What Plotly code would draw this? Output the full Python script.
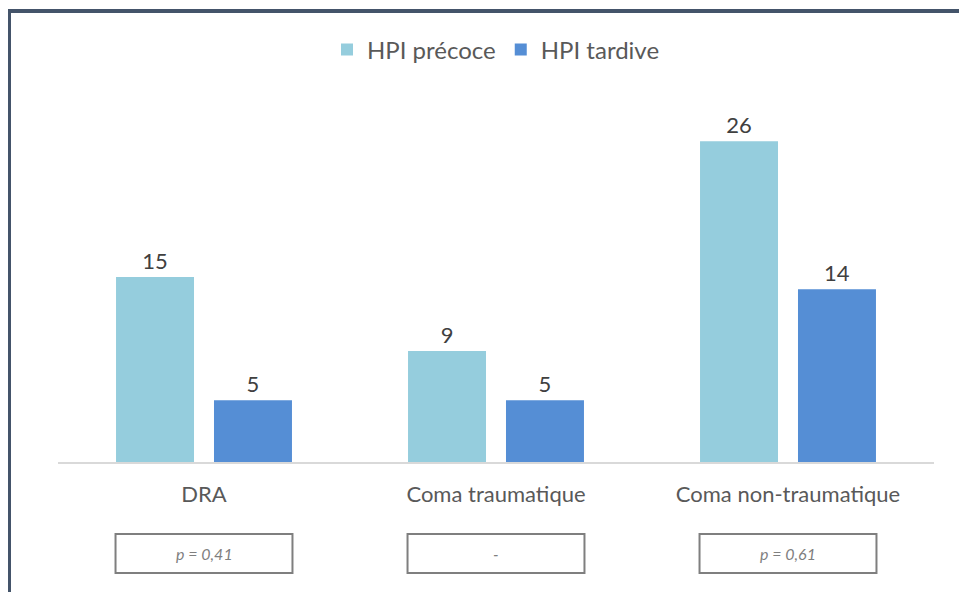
import plotly.graph_objects as go

categories = ["DRA", "Coma traumatique", "Coma non-traumatique"]
hpi_precoce = [15, 9, 26]
hpi_tardive = [5, 5, 14]
p_values = ["p = 0,41", "-", "p = 0,61"]

OFF = 8  # page body margin offset
W, H = 967, 592
L, R = 58 - OFF, 934 - OFF
T, B = 92 - OFF, 462 - OFF
YMAX = 30

def px_x(p):
    return (p - OFF - L) / (R - L)

def px_y(p):
    return (B - (p - OFF)) / (B - T)

fig = go.Figure()
fig.add_trace(go.Bar(
    name="HPI précoce", x=categories, y=hpi_precoce,
    marker=dict(color="#95cddd", line=dict(width=0)),
    text=hpi_precoce, textposition="outside",
    textfont=dict(size=22, color="#404040", family="Lato"),
    cliponaxis=False,
))
fig.add_trace(go.Bar(
    name="HPI tardive", x=categories, y=hpi_tardive,
    marker=dict(color="#558ed5", line=dict(width=0)),
    text=hpi_tardive, textposition="outside",
    textfont=dict(size=22, color="#404040", family="Lato"),
    cliponaxis=False,
))

shapes = []
annotations = []
n = len(categories)
half = 0.303
for i, pv in enumerate(p_values):
    x0 = (i + 0.5 - half) / n
    x1 = (i + 0.5 + half) / n
    shapes.append(dict(type="rect", xref="paper", yref="paper",
                       x0=x0, x1=x1, y0=px_y(573), y1=px_y(534),
                       line=dict(color="#7f7f7f", width=2), fillcolor="white"))
    annotations.append(dict(xref="paper", yref="paper", x=(i + 0.5) / n,
                            y=px_y(553.5), text=pv, showarrow=False,
                            font=dict(size=16, color="#7f7f7f", family="Lato", style="italic"),
                            xanchor="center", yanchor="middle"))

# outer frame
shapes.append(dict(type="rect", xref="paper", yref="paper",
                   x0=px_x(9), x1=px_x(1100), y0=px_y(800), y1=px_y(11),
                   line=dict(color="#44546a", width=4), fillcolor="rgba(0,0,0,0)"))

fig.update_layout(
    width=W, height=H,
    margin=dict(l=L, r=W - R, t=T, b=H - B),
    paper_bgcolor="white", plot_bgcolor="white",
    barmode="group", bargap=0.329, bargroupgap=0.204,
    font=dict(family="Lato", color="#595959"),
    legend=dict(orientation="h", x=0.5, xanchor="center", y=px_y(50), yanchor="middle",
                font=dict(size=24, color="#595959", family="Lato"), itemwidth=30,
                traceorder="normal"),
    shapes=shapes, annotations=annotations,
    xaxis=dict(showline=True, linecolor="#d9d9d9", linewidth=2, ticks="",
               tickfont=dict(size=22, color="#595959", family="Lato"),
               ticklabelstandoff=12, showgrid=False),
    yaxis=dict(range=[0, YMAX], visible=False, showgrid=False, zeroline=False),
)

fig.write_html("out.html")
